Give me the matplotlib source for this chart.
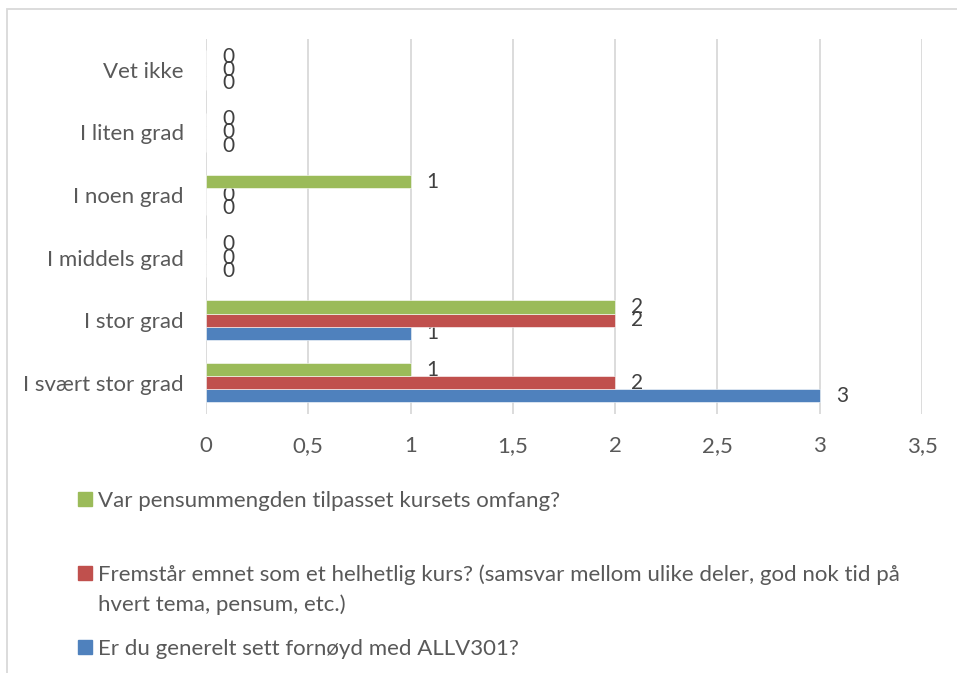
import numpy as np
import matplotlib.pyplot as plt
from matplotlib.patches import Rectangle

plt.rcParams['font.family'] = ['Lato', 'DejaVu Sans']

categories = ['I svært stor grad', 'I stor grad', 'I middels grad',
              'I noen grad', 'I liten grad', 'Vet ikke']

series_names = ['Er du generelt sett fornøyd med ALLV301?',
                'Fremstår emnet som et helhetlig kurs? (samsvar mellom ulike deler, god nok tid på\nhvert tema, pensum, etc.)',
                'Var pensummengden tilpasset kursets omfang?']

fornoyd = [3, 1, 0, 0, 0, 0]
helhetlig = [2, 2, 0, 0, 0, 0]
pensum = [1, 2, 0, 1, 0, 0]

x_ticks = [0, 0.5, 1, 1.5, 2, 2.5, 3, 3.5]
x_tick_labels = ['0', '0,5', '1', '1,5', '2', '2,5', '3', '3,5']

colors = ['#4F81BD', '#C0504D', '#9BBB59']
text_color = '#595959'
grid_color = '#D9D9D9'

W, H = 957, 673
fig = plt.figure(figsize=(W / 100, H / 100), dpi=100)
ax = fig.add_axes([206 / W, 1 - 414 / H, (922 - 206) / W, (414 - 38.5) / H])

y = np.arange(len(categories))
bar_h = 0.21
offsets = [-bar_h, 0, bar_h]
for vals, off, col in zip([fornoyd, helhetlig, pensum], offsets, colors):
    bars = ax.barh(y + off, vals, height=bar_h, color=col,
                   edgecolor='white', linewidth=0.4, zorder=3)
    ax.bar_label(bars, labels=[str(v) for v in vals], padding=11.5,
                 fontsize=15, color='#404040')

ax.set_xlim(0, 3.5)
ax.set_ylim(-0.5, len(categories) - 0.5)
ax.set_xticks(x_ticks)
ax.set_xticklabels(x_tick_labels)
ax.set_yticks(y)
ax.set_yticklabels(categories)
ax.tick_params(axis='both', length=0, labelsize=16, colors=text_color)
ax.tick_params(axis='x', pad=16)
ax.tick_params(axis='y', pad=16)
ax.grid(axis='x', color=grid_color, linewidth=1.3, zorder=0)
ax.set_axisbelow(True)
for s in ax.spines.values():
    s.set_visible(False)

# legend drawn by hand (green on top, blue at the bottom)
legend_y = [647, 573, 499]
line_step = 30
for name, col, ly in zip(series_names, colors, legend_y):
    fig.patches.append(Rectangle((78 / W, 1 - (ly + 7) / H), 14 / W, 14 / H,
                                 transform=fig.transFigure, color=col))
    for i, line in enumerate(name.split('\n')):
        fig.text(98 / W, 1 - (ly + 8 + i * line_step) / H, line,
                 fontsize=16, color=text_color, va='baseline', ha='left')

# outer chart frame
fig.patches.append(Rectangle((7 / W, -0.1), 2, 1.1 - 9 / H,
                             transform=fig.transFigure, fill=False,
                             edgecolor=grid_color, linewidth=1.3))

fig.savefig('out.png', dpi=100)
